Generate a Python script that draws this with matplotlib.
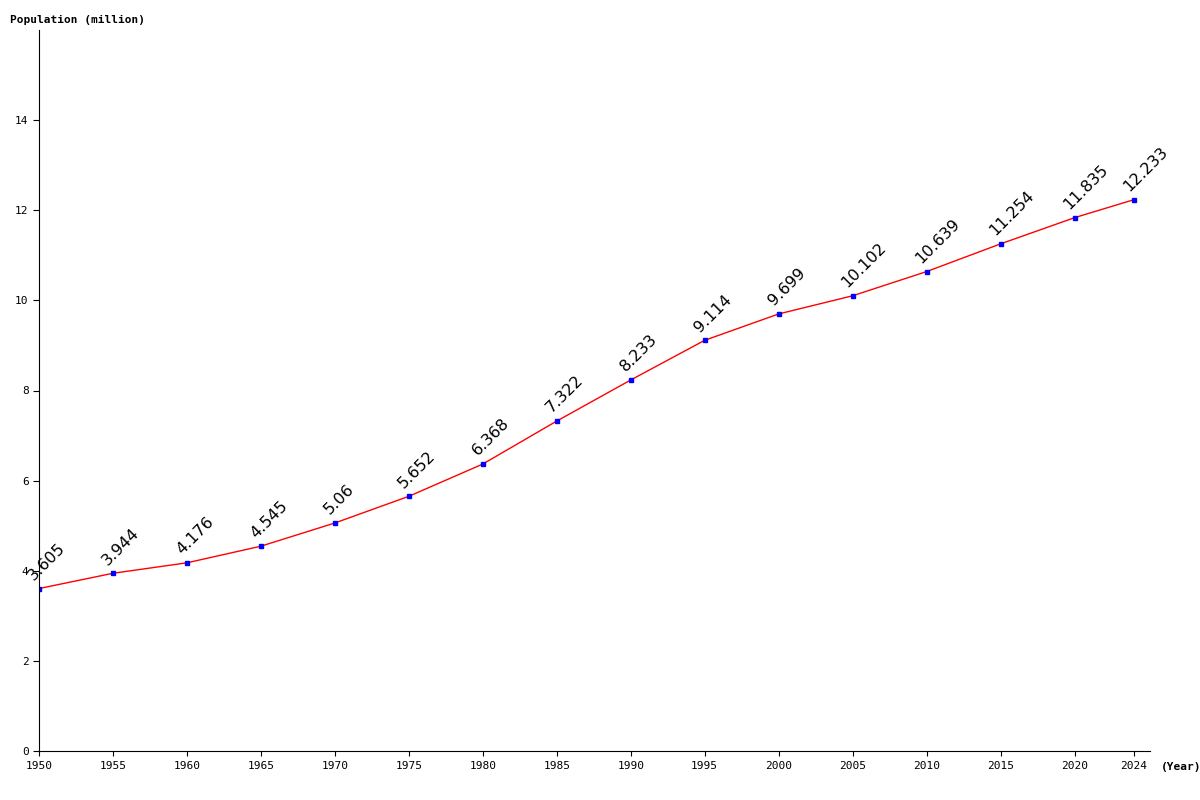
import matplotlib
matplotlib.use("Agg")
import matplotlib.pyplot as plt

years = [1950, 1955, 1960, 1965, 1970, 1975, 1980, 1985, 1990, 1995, 2000, 2005, 2010, 2015, 2020, 2024]
values = [3.605, 3.944, 4.176, 4.545, 5.06, 5.652, 6.368, 7.322, 8.233, 9.114, 9.699, 10.102, 10.639, 11.254, 11.835, 12.233]
labels = ["3.605", "3.944", "4.176", "4.545", "5.06", "5.652", "6.368", "7.322", "8.233", "9.114", "9.699", "10.102", "10.639", "11.254", "11.835", "12.233"]

fig = plt.figure(figsize=(12, 8), dpi=100)
ax = fig.add_axes([0.0325, 0.06125, 0.9258, 0.90125])
ax.plot(years, values, color="red", lw=1)
ax.plot(years, values, 's', color="blue", ms=3.5)
for x, y, t in zip(years, values, labels):
    ax.annotate(t, (x, y), xytext=(-2, 4), textcoords="offset points",
                rotation=45, ha="left", va="bottom", fontsize=11.5,
                family="DejaVu Sans", rotation_mode="anchor")
ax.set_xlim(1950, 2025.1)
ax.set_ylim(0, 16)
ax.set_xticks(years)
ax.set_yticks([0, 2, 4, 6, 8, 10, 12, 14])
for s in ["top", "right"]:
    ax.spines[s].set_visible(False)
ax.tick_params(labelsize=8)
for lab in ax.get_xticklabels() + ax.get_yticklabels():
    lab.set_family("DejaVu Sans Mono")
ax.tick_params(axis="y", direction="out", length=4)
fig.text(0.008, 0.975, "Population (million)", family="DejaVu Sans Mono", fontsize=8, weight="bold", va="center")
fig.text(0.967, 0.041, "(Year)", family="DejaVu Sans Mono", fontsize=8, weight="bold", va="center")
fig.savefig("out.png")
